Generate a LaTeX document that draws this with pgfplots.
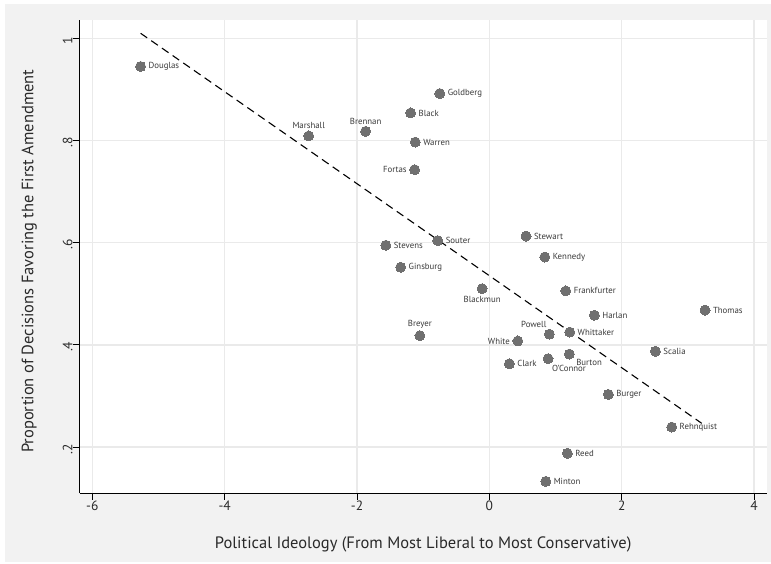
\documentclass[border=0pt]{standalone}
\usepackage{pgfplots}
\pgfplotsset{compat=1.18}
\usepackage{fontspec}
\setmainfont{PT Sans}
\definecolor{bgc}{HTML}{F2F2F2}
\definecolor{gridc}{HTML}{EAEAEA}
\definecolor{markc}{HTML}{707070}
\definecolor{txtc}{HTML}{2A2A2A}
\definecolor{lblc}{HTML}{3A3A3A}
\pgfplotsset{pts/.style={only marks, mark=*, mark size=5pt, color=markc, mark options={fill=markc, draw=markc, line width=0pt}}}
\begin{document}
\begin{tikzpicture}[x=1pt,y=1pt]
\path[fill=white] (0,0) rectangle (771,564);
\fill[bgc] (5,2) rectangle (771,560);
\fill[white] (79.7,71) rectangle (766.7,544);
\begin{axis}[
  at={(79.7pt,71pt)}, anchor=south west,
  scale only axis, width=687pt, height=473pt,
  xmin=-6.19, xmax=4.19, ymin=0.110, ymax=1.036,
  axis x line*=bottom, axis y line*=left,
  axis line style={black, line width=0.9pt, -},
  xtick={-6,-4,-2,0,2,4},
  ytick={0.2,0.4,0.6,0.8,1},
  yticklabels={.2,.4,.6,.8,1},
  tick align=outside, major tick length=7pt,
  tick style={black, line width=0.9pt},
  grid=major,
  major grid style={gridc, line width=1.3pt},
  /pgf/number format/assume math mode=true,
  ticklabel style={font=\fontsize{13.5}{16}\selectfont, text=txtc},
  yticklabel style={rotate=90, anchor=south, inner sep=0pt, xshift=-2pt},
  xticklabel style={anchor=north, inner sep=0pt, yshift=-1pt},
  xlabel={Political Ideology (From Most Liberal to Most Conservative)},
  ylabel={Proportion of Decisions Favoring the First Amendment},
  label style={font=\fontsize{16.5}{19}\selectfont, text=txtc},
  xlabel style={at={(axis description cs:0.5,-0.1078)}, anchor=center},
  ylabel style={at={(axis description cs:-0.0735,0.49)}, anchor=center, rotate=0},
  nodes near coords, point meta=explicit symbolic,
  every node near coord/.append style={font=\fontsize{8.8}{10}\selectfont, text=lblc, inner sep=0pt},
  clip=false,
]
\addplot[black, dashed, dash pattern=on 8pt off 5pt, line width=1.1pt, nodes near coords={}] coordinates {(-5.27,1.010) (3.208,0.2464)};
% east labels
\addplot[pts, every node near coord/.append style={anchor=west, xshift=8pt}]
  table[meta=name, row sep=\\] {
x y name\\
-5.27 0.945 Douglas\\
-0.75 0.892 Goldberg\\
-1.19 0.854 Black\\
-1.12 0.797 Warren\\
0.554 0.613 Stewart\\
-0.78 0.604 Souter\\
-1.565 0.595 Stevens\\
0.837 0.572 Kennedy\\
-1.34 0.552 Ginsburg\\
1.154 0.5056 Frankfurter\\
3.258 0.468 Thomas\\
1.586 0.458 Harlan\\
1.214 0.425 Whittaker\\
2.508 0.3874 Scalia\\
0.302 0.363 Clark\\
1.798 0.303 Burger\\
2.755 0.239 Rehnquist\\
1.178 0.1877 Reed\\
0.852 0.1328 Minton\\
};
% north labels
\addplot[pts, every node near coord/.append style={anchor=south, yshift=7pt}]
  table[meta=name, row sep=\\] {
x y name\\
-2.73 0.809 Marshall\\
-1.87 0.818 Brennan\\
-1.05 0.418 Breyer\\
};
% west labels
\addplot[pts, every node near coord/.append style={anchor=east, xshift=-8pt}]
  table[meta=name, row sep=\\] {
x y name\\
-1.13 0.743 Fortas\\
0.429 0.4076 White\\
};
% south label
\addplot[pts, every node near coord/.append style={anchor=north, yshift=-8pt}]
  table[meta=name, row sep=\\] {
x y name\\
-0.11 0.510 Blackmun\\
};
% north-west label
\addplot[pts, every node near coord/.append style={anchor=south east, xshift=-3pt, yshift=7pt}]
  table[meta=name, row sep=\\] {
x y name\\
0.906 0.421 Powell\\
};
% south-east labels
\addplot[pts, every node near coord/.append style={anchor=north west, xshift=7pt, yshift=-5pt}]
  table[meta=name, row sep=\\] {
x y name\\
1.208 0.382 Burton\\
};
\addplot[pts, every node near coord/.append style={anchor=north west, xshift=4pt, yshift=-7pt}]
  table[meta=name, row sep=\\] {
x y name\\
0.887 0.373 O'Connor\\
};
\end{axis}
\end{tikzpicture}
\end{document}
